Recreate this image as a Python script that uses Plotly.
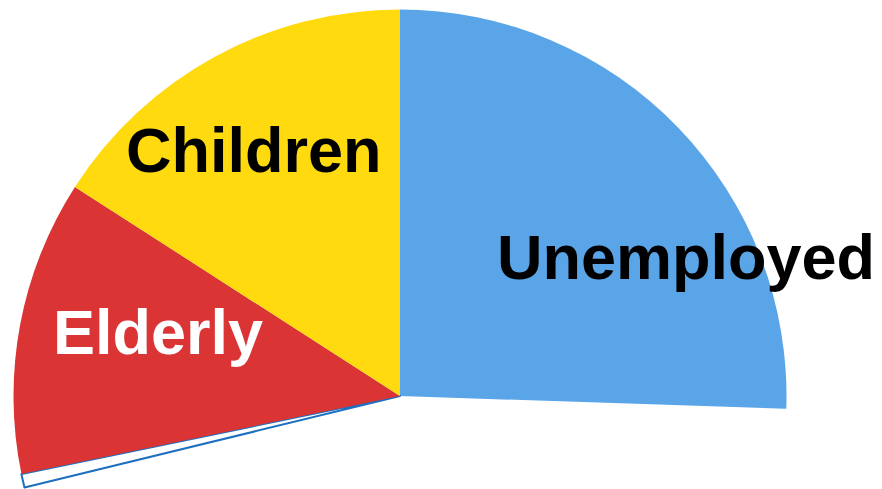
import plotly.graph_objects as go

# Slice shares in degrees (clockwise from 12 o'clock)
labels = ["Unemployed", "", "Other", "Elderly", "Children"]
values = [91.9, 164.4, 2.05, 44.4, 57.25]
colors = ["#5AA5E8", "rgba(0,0,0,0)", "#FFFFFF", "#DA3434", "#FFDA0E"]
line_colors = ["#5AA5E8", "rgba(0,0,0,0)", "#1F6FC0", "#DA3434", "#FFDA0E"]
line_widths = [0, 0, 2, 0, 0]

label_text = ["Children", "Unemployed", "Elderly"]
label_color = ["#000000", "#000000", "#FFFFFF"]

W, H = 882, 800
cx, cy, R = 400, 396, 386.5

fig = go.Figure(go.Pie(
    labels=labels,
    values=values,
    sort=False,
    direction="clockwise",
    rotation=0,
    textinfo="none",
    hoverinfo="skip",
    showlegend=False,
    marker=dict(colors=colors, line=dict(color=line_colors, width=line_widths)),
    domain=dict(x=[(cx - R) / W, (cx + R) / W],
                y=[(H - cy - R) / H, (H - cy + R) / H]),
))

label_pos = [(254, 150), (686, 257), (158, 332)]
for t, c, (px, py) in zip(label_text, label_color, label_pos):
    fig.add_annotation(
        text=f"<b>{t}</b>", x=px / W, y=(H - py) / H, xref="paper", yref="paper",
        xanchor="center", yanchor="middle", showarrow=False,
        font=dict(family="Liberation Sans, Arial, sans-serif", size=63, color=c),
    )

fig.update_layout(
    width=W, height=H, margin=dict(l=0, r=0, t=0, b=0),
    paper_bgcolor="white", plot_bgcolor="white",
)

fig.write_html(
    "out.html",
    config={"displayModeBar": False},
    post_script="document.body.style.margin='0';document.body.style.overflow='hidden';document.documentElement.style.overflow='hidden';",
)
